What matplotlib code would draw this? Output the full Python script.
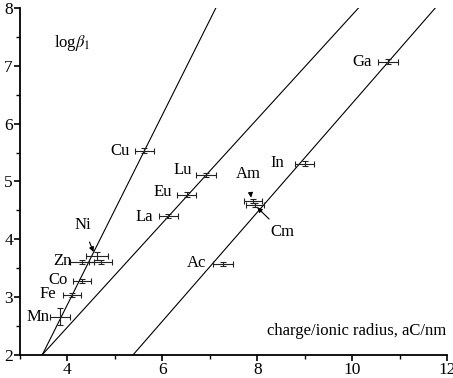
import numpy as np
import matplotlib
matplotlib.use('Agg')
import matplotlib.pyplot as plt

plt.rcParams['font.family'] = ['Liberation Serif', 'DejaVu Serif']
plt.rcParams['mathtext.fontset'] = 'stix'

# data
ions = ['Mn', 'Fe', 'Co', 'Zn', 'Ni', '', 'Cu', 'La', 'Eu', 'Lu', 'Ac', 'Am', 'Cm', 'In', 'Ga']
ratio = [3.85, 4.09, 4.30, 4.31, 4.62, 4.70, 5.62, 6.13, 6.51, 6.92, 7.28, 7.92, 7.96, 9.00, 10.75]
ratio_err = [0.21, 0.19, 0.19, 0.25, 0.23, 0.24, 0.20, 0.20, 0.20, 0.21, 0.21, 0.19, 0.19, 0.20, 0.21]
logb = [2.66, 3.04, 3.28, 3.61, 3.71, 3.61, 5.53, 4.40, 4.77, 5.11, 3.57, 4.66, 4.59, 5.31, 7.07]
logb_err = [0.15, 0.03, 0.04, 0.03, 0.07, 0.03, 0.04, 0.04, 0.04, 0.03, 0.04, 0.04, 0.03, 0.04, 0.04]

# fitted lines: slope, intercept
slopes = [1.64, 0.90, 0.942]
intercepts = [-3.69, -1.12, -3.07]

# plain labels (placed left of the point)
lab_names = ['Mn', 'Fe', 'Co', 'Zn', 'Cu', 'La', 'Eu', 'Lu', 'Ac', 'In', 'Ga']
lab_x = [3.62, 3.77, 4.00, 4.08, 5.31, 5.80, 6.20, 6.62, 6.92, 8.57, 10.41]
lab_y = [2.66, 3.05, 3.30, 3.63, 5.53, 4.39, 4.82, 5.20, 3.59, 5.32, 7.07]

fs = 12

fig = plt.figure(figsize=(4.53, 3.78), dpi=100)
ax = fig.add_axes([0.044, 0.061, 0.943, 0.918])

xx = np.linspace(3, 12, 200)
for k, b in zip(slopes, intercepts):
    ax.plot(xx, k * xx + b, color='k', lw=0.8)

ax.errorbar(ratio, logb, xerr=ratio_err, yerr=logb_err, fmt='none',
            ecolor='#222222', elinewidth=0.8, capsize=2.5, capthick=0.8)

for n, x, y in zip(lab_names, lab_x, lab_y):
    ax.text(x, y, n, ha='right', va='center', fontsize=fs)

# arrowed labels
ax.annotate('Ni', xy=(4.55, 3.78), xytext=(4.32, 4.25), ha='center', va='center',
            fontsize=fs, arrowprops=dict(arrowstyle='-|>', color='k', lw=0.8,
                                         mutation_scale=7, shrinkA=5, shrinkB=0))
ax.annotate('Am', xy=(7.87, 4.72), xytext=(7.81, 5.13), ha='center', va='center',
            fontsize=fs, arrowprops=dict(arrowstyle='-|>', color='k', lw=0.8,
                                         mutation_scale=7, shrinkA=6, shrinkB=0))
ax.annotate('Cm', xy=(8.00, 4.55), xytext=(8.27, 4.13), ha='left', va='center',
            fontsize=fs, arrowprops=dict(arrowstyle='-|>', color='k', lw=0.8,
                                         mutation_scale=7, shrinkA=2, shrinkB=0))

ax.text(3.72, 7.39, r'log$\beta_{\mathit{1}}$', fontsize=fs, va='center')
ax.text(11.98, 2.42, 'charge/ionic radius, aC/nm', ha='right', va='center', fontsize=fs)

ax.set_xlim(3, 12)
ax.set_ylim(2, 8)
ax.set_xticks([4, 6, 8, 10, 12])
ax.set_xticks([3, 5, 7, 9, 11], minor=True)
ax.set_yticks([2, 3, 4, 5, 6, 7, 8])
ax.set_yticks(np.arange(2.5, 8, 1.0), minor=True)
ax.tick_params(which='major', direction='out', length=4, width=1.2, labelsize=12.5, pad=1)
ax.tick_params(which='minor', direction='out', length=3, width=1.0)
ax.spines['top'].set_visible(False)
ax.spines['right'].set_visible(False)
ax.spines['left'].set_linewidth(1.3)
ax.spines['bottom'].set_linewidth(1.3)

fig.savefig('out.png', dpi=100)
